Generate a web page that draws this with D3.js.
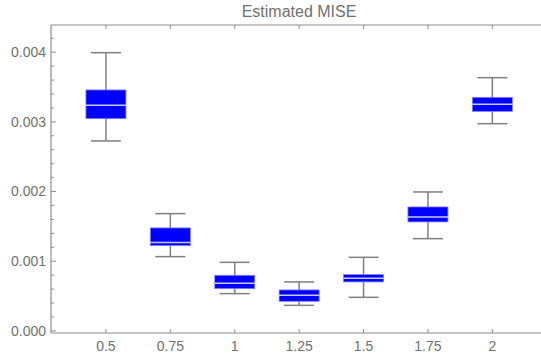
<!DOCTYPE html>
<html>
<head>
<meta charset="utf-8">
<script src="https://cdn.jsdelivr.net/npm/d3@7"></script>
<style>
  body { margin: 0; background: #fff; }
  text { font-family: "Liberation Sans", Arial, sans-serif; fill: #707070; }
</style>
</head>
<body>
<svg id="chart" width="541" height="359"></svg>
<script>
// categories + box stats
const categories = ["0.5", "0.75", "1", "1.25", "1.5", "1.75", "2"];
const whiskerLow = [0.002726, 0.001066, 0.000535, 0.000367, 0.000482, 0.001324, 0.002974];
const q1 = [0.003046, 0.001224, 0.000607, 0.000425, 0.000703, 0.001564, 0.003151];
const median = [0.003237, 0.001267, 0.000683, 0.000511, 0.000755, 0.001636, 0.003251];
const q3 = [0.003458, 0.001478, 0.000798, 0.000588, 0.000808, 0.001779, 0.003352];
const whiskerHigh = [0.003993, 0.001683, 0.000984, 0.000703, 0.001056, 0.001994, 0.003634];
const yTicks = [0, 0.001, 0.002, 0.003, 0.004];

const margin = {top: 25, right: 0, bottom: 26, left: 51};
const width = 541 - margin.left - margin.right;
const height = 359 - margin.top - margin.bottom;

const svg = d3.select("#chart");
const g = svg.append("g").attr("transform", `translate(${margin.left},${margin.top})`);

const xScale = d3.scaleLinear().domain([-0.853, 6.74]).range([0, width - 1]);
const yScale = d3.scaleLinear().domain([-0.00003, 0.00439]).range([height, 0]);

const axisColor = "#8c8c8c";

// frame
g.append("line").attr("x1", 0).attr("x2", width).attr("y1", 0).attr("y2", 0)
  .attr("stroke", axisColor).attr("stroke-width", 1.2);
g.append("line").attr("x1", 0).attr("x2", width).attr("y1", height).attr("y2", height)
  .attr("stroke", axisColor).attr("stroke-width", 1.2);
g.append("line").attr("x1", 0).attr("x2", 0).attr("y1", 0).attr("y2", height)
  .attr("stroke", axisColor).attr("stroke-width", 1.2);

// y ticks (major + minor)
const minor = d3.range(0, 0.0044, 0.0002).filter(v => !yTicks.some(t => Math.abs(t - v) < 1e-9));
g.selectAll(".ymin").data(minor).enter().append("line")
  .attr("x1", 0).attr("x2", 3)
  .attr("y1", d => yScale(d)).attr("y2", d => yScale(d))
  .attr("stroke", axisColor);
g.selectAll(".ymaj").data(yTicks).enter().append("line")
  .attr("x1", 0).attr("x2", 5)
  .attr("y1", d => yScale(d)).attr("y2", d => yScale(d))
  .attr("stroke", axisColor);
g.selectAll(".ylab").data(yTicks).enter().append("text")
  .attr("x", -5).attr("y", d => yScale(d)).attr("dy", "0.35em")
  .attr("text-anchor", "end").attr("font-size", 14)
  .text(d => d3.format(".3f")(d));

// x ticks top and bottom
categories.forEach((c, i) => {
  const x = xScale(i);
  g.append("line").attr("x1", x).attr("x2", x).attr("y1", 0).attr("y2", 4).attr("stroke", axisColor);
  g.append("line").attr("x1", x).attr("x2", x).attr("y1", height).attr("y2", height - 4).attr("stroke", axisColor);
  g.append("text").attr("x", x).attr("y", height + 18)
    .attr("text-anchor", "middle").attr("font-size", 14).text(c);
});

// boxes
const boxW = 40, capW = 15;
const boxes = g.selectAll(".box").data(categories).enter().append("g").attr("class", "box");
boxes.append("line")
  .attr("x1", (d, i) => xScale(i)).attr("x2", (d, i) => xScale(i))
  .attr("y1", (d, i) => yScale(whiskerLow[i])).attr("y2", (d, i) => yScale(whiskerHigh[i]))
  .attr("stroke", "#7f7f7f").attr("stroke-width", 1.5);
[whiskerLow, whiskerHigh].forEach(arr => {
  boxes.append("line")
    .attr("x1", (d, i) => xScale(i) - capW).attr("x2", (d, i) => xScale(i) + capW)
    .attr("y1", (d, i) => yScale(arr[i])).attr("y2", (d, i) => yScale(arr[i]))
    .attr("stroke", "#7f7f7f").attr("stroke-width", 1.5);
});
boxes.append("rect")
  .attr("x", (d, i) => xScale(i) - boxW / 2)
  .attr("y", (d, i) => yScale(q3[i]))
  .attr("width", boxW)
  .attr("height", (d, i) => yScale(q1[i]) - yScale(q3[i]))
  .attr("fill", "#0000ff").attr("stroke", "#7f7fff").attr("stroke-width", 0.8);
boxes.append("line")
  .attr("x1", (d, i) => xScale(i) - boxW / 2).attr("x2", (d, i) => xScale(i) + boxW / 2)
  .attr("y1", (d, i) => yScale(median[i])).attr("y2", (d, i) => yScale(median[i]))
  .attr("stroke", "#c8c8ff").attr("stroke-width", 1.5);

// title
svg.append("text")
  .attr("x", margin.left + width / 2 + 3).attr("y", 17)
  .attr("text-anchor", "middle").attr("font-size", 16)
  .text("Estimated MISE");
</script>
</body>
</html>
